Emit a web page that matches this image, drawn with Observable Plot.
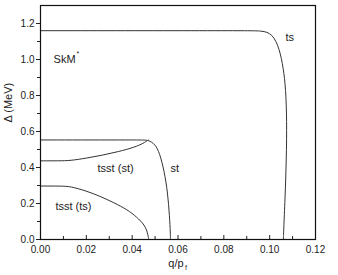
<!DOCTYPE html>
<html><head><meta charset="utf-8">
<script src="https://cdn.jsdelivr.net/npm/d3@7"></script>
<script src="https://cdn.jsdelivr.net/npm/@observablehq/plot@0.6"></script>
<style>
body{margin:0;background:#fff;}
svg{font-family:"Liberation Sans",Arial,sans-serif;}
</style>
</head><body>
<div id="chart"></div>
<script>
// q/pF values and gap values (MeV) for each curve
const tsQ = [0, 0.09, 0.0965, 0.1012, 0.1043, 0.1060, 0.1070, 0.1075, 0.1073, 0.1067, 0.1061, 0.106];
const tsD = [1.16, 1.16, 1.16, 1.145, 1.06, 0.95, 0.84, 0.66, 0.45, 0.22, 0.05, 0.0];
const stQ = [0, 0.044, 0.047, 0.050, 0.052, 0.054, 0.0555, 0.0563, 0.0567, 0.0567];
const stD = [0.553, 0.553, 0.553, 0.53, 0.48, 0.38, 0.26, 0.13, 0.03, 0.0];
const tsstStQ = [0, 0.008, 0.013, 0.020, 0.027, 0.034, 0.041, 0.045, 0.047];
const tsstStD = [0.437, 0.437, 0.438, 0.452, 0.468, 0.488, 0.512, 0.535, 0.553];
const tsstTsQ = [0, 0.009, 0.013, 0.020, 0.026, 0.032, 0.038, 0.042, 0.0455, 0.0468, 0.0472];
const tsstTsD = [0.297, 0.297, 0.295, 0.270, 0.240, 0.205, 0.165, 0.125, 0.080, 0.035, 0.0];

const xMajor = [0, 0.02, 0.04, 0.06, 0.08, 0.10, 0.12];
const xMinor = [0.01, 0.03, 0.05, 0.07, 0.09, 0.11];
const yMajor = [0, 0.2, 0.4, 0.6, 0.8, 1.0, 1.2];
const yMinor = [0.1, 0.3, 0.5, 0.7, 0.9, 1.1];

const labels = [
  {q: 0.0057, d: 1.0, t: "SkM"},
  {q: 0.1069, d: 1.123, t: "ts"},
  {q: 0.0567, d: 0.397, t: "st"},
  {q: 0.0249, d: 0.397, t: "tsst (st)"},
  {q: 0.0065, d: 0.184, t: "tsst (ts)"}
];

const toRows = (Q, D) => Q.map((q, i) => ({q, d: D[i]}));
const curves = [toRows(tsQ, tsD), toRows(stQ, stD), toRows(tsstStQ, tsstStD), toRows(tsstTsQ, tsstTsD)];

const fmt = d3.format(".2f");
const fmt1 = d3.format(".1f");

const plot = Plot.plot({
  width: 338, height: 275,
  marginLeft: 40, marginRight: 23, marginTop: 5, marginBottom: 36,
  style: {fontFamily: "Liberation Sans, Arial, sans-serif", fontSize: "10px", color: "#222", background: "#fff"},
  x: {domain: [0, 0.12]},
  y: {domain: [0, 1.3]},
  marks: [
    Plot.axisX(xMajor, {tickSize: 0, tickPadding: 6, tickFormat: fmt, label: null, fontSize: 10}),
    Plot.axisX(xMajor, {tickSize: -4, tickFormat: () => "", label: null}),
    Plot.axisX(xMinor, {tickSize: -3, tickFormat: () => "", label: null}),
    Plot.axisY(yMajor, {tickSize: 4, tickPadding: 2, tickFormat: fmt1, label: null, fontSize: 10}),
    Plot.axisY(yMinor, {tickSize: 3, tickFormat: () => "", label: null}),
    Plot.text(["Δ (MeV)"], {frameAnchor: "left", text: d => d, rotate: -90, dx: -32, fontSize: 11, fill: "#222"}),
    ...curves.map(c => Plot.line(c, {x: "q", y: "d", curve: "basis", stroke: "#333", strokeWidth: 1})),
    Plot.text(labels, {x: "q", y: "d", text: "t", textAnchor: "start", fontSize: 11, fill: "#222"}),
    Plot.text(labels.slice(0, 1), {x: "q", y: "d", text: () => "*", textAnchor: "start", fontSize: 7, dx: 23, dy: -6, fill: "#222"}),
    Plot.text(["q/p"], {frameAnchor: "bottom", text: d => d, fontSize: 11, dy: 27, dx: -2, fill: "#222"}),
    Plot.text(["f"], {frameAnchor: "bottom", text: d => d, fontSize: 7, dy: 30, dx: 8, fill: "#222"}),
    Plot.frame({stroke: "#111", strokeWidth: 1.2})
  ]
});
document.getElementById("chart").appendChild(plot);
</script>
</body></html>
